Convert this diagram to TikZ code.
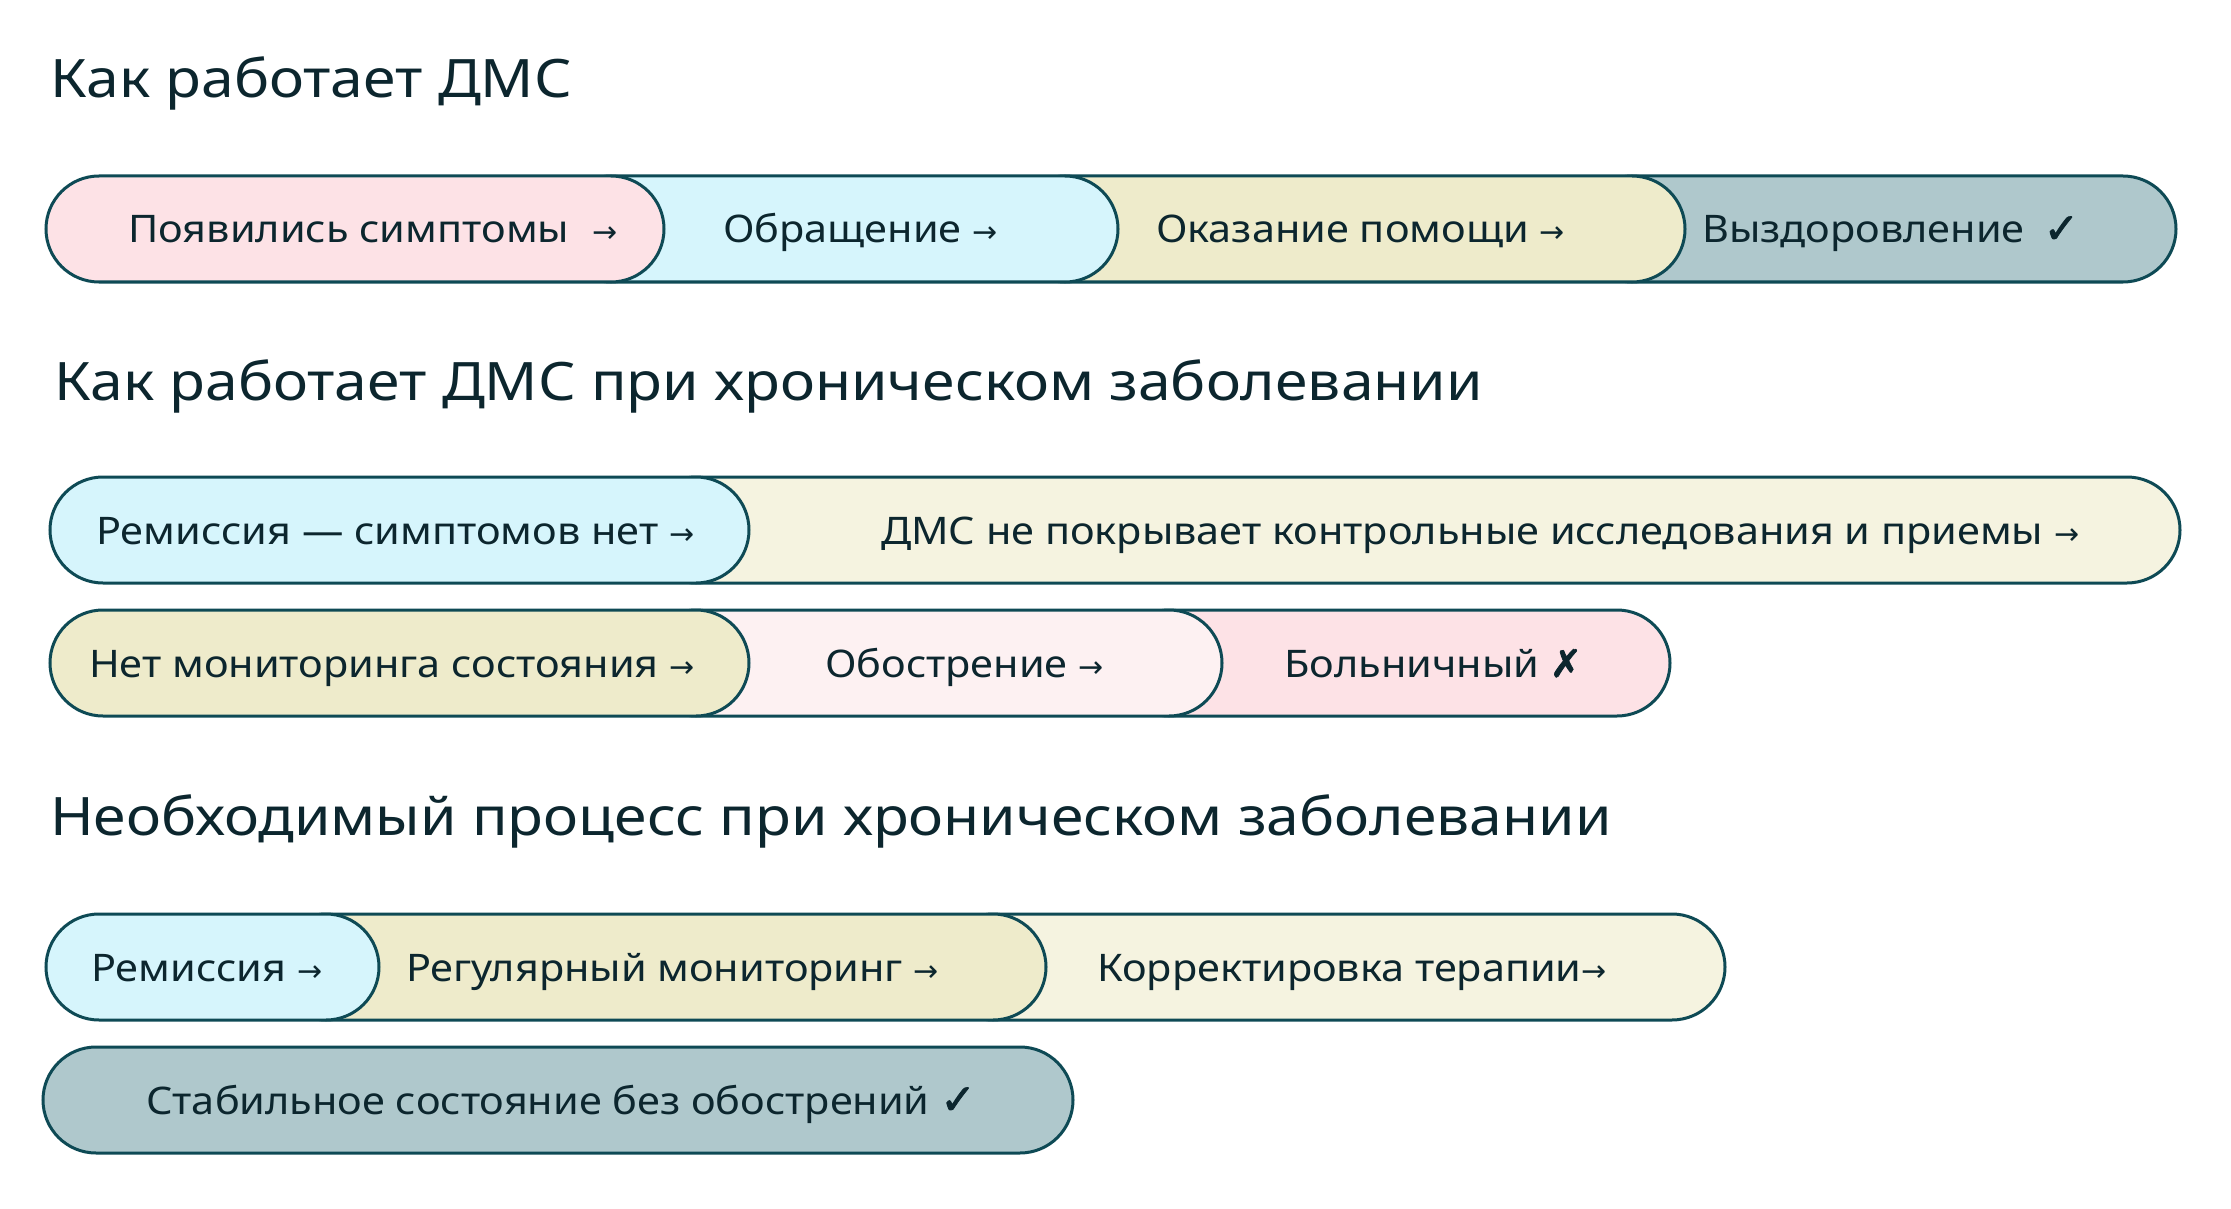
\documentclass[tikz,border=0pt]{standalone}
\usepackage{fontspec}
\setmainfont{Noto Sans}[FakeStretch=1.09]
\newfontfamily\headfont{Noto Sans}[FakeStretch=1.11]
\newfontfamily\symfont{DejaVu Sans}
\newfontfamily\symbold{DejaVu Sans}[FakeBold=2]

\definecolor{edge}{HTML}{0E4A55}
\definecolor{ink}{HTML}{0C262E}
\definecolor{pink}{HTML}{FDE2E6}
\definecolor{palepink}{HTML}{FDF1F2}
\definecolor{sky}{HTML}{D6F5FC}
\definecolor{sand}{HTML}{EEEBCB}
\definecolor{cream}{HTML}{F5F3E0}
\definecolor{slate}{HTML}{AFC8CC}

\newcommand{\nextarrow}{{\symfont\fontsize{30}{30}\selectfont →}}
\newcommand{\checkmk}{{\symbold\fontsize{42}{42}\selectfont ✓}}
\newcommand{\crossmk}{{\symbold\fontsize{38}{38}\selectfont ✗}}

\begin{document}
\begin{tikzpicture}[x=1pt,y=-1pt]
        \tikzstyle{pill}=[draw=edge, line width=3pt, rounded corners=53pt]
        \tikzstyle{heading}=[anchor=base west, inner sep=0pt, text=ink,
            font=\headfont\fontsize{53}{60}\selectfont]
        \tikzstyle{steptext}=[anchor=base west, inner sep=0pt, text=ink,
            font=\fontsize{38}{44}\selectfont]

        \useasboundingbox (0,0) rectangle (2231,1209);

        % Headings
        \node[heading] (title1) at (50,98) {Как работает ДМС};
        \node[heading] (title2) at (54,400) {Как работает ДМС при хроническом заболевании};
        \node[heading] (title3) at (50,835) {Необходимый процесс при хроническом заболевании};

        % Draw the pills of every row, the last one first so that each
        % pill lies on top of the one to its right
        \foreach \l / \r / \c in {1579/2176/slate, 1012/1685/sand, 558/1118/sky, 46/664/pink}
            \draw[pill, fill=\c] (\l,176) rectangle (\r,282);

        \foreach \l / \r / \c in {643/2180/cream, 50/749/sky}
            \draw[pill, fill=\c] (\l,477) rectangle (\r,583);

        \foreach \l / \r / \c in {1116/1670/pink, 643/1222/palepink, 50/749/sand}
            \draw[pill, fill=\c] (\l,610) rectangle (\r,716);

        \foreach \l / \r / \c in {940/1725/cream, 273/1046/sand, 46/379/sky}
            \draw[pill, fill=\c] (\l,914) rectangle (\r,1020);

        \draw[pill, fill=slate] (43,1047) rectangle (1073,1153);

        % Texts of the steps
        \node[steptext] (symptoms) at (128,243) {Появились симптомы\hspace{0.6em}\nextarrow};
        \node[steptext] (visit) at (723,243) {Обращение \nextarrow};
        \node[steptext] (help) at (1156,243) {Оказание помощи \nextarrow};
        \node[steptext] (recovery) at (1702,243) {Выздоровление\hspace{0.5em}\checkmk};

        \node[steptext] (remission) at (96,544) {Ремиссия — симптомов нет \nextarrow};
        \node[steptext] (nocover) at (881,544) {ДМС не покрывает контрольные исследования и приемы \nextarrow};

        \node[steptext] (nomonitor) at (89,677) {Нет мониторинга состояния \nextarrow};
        \node[steptext] (flare) at (825,677) {Обострение \nextarrow};
        \node[steptext] (sickleave) at (1284,677) {Больничный \crossmk};

        \node[steptext] (remission2) at (91,981) {Ремиссия \nextarrow};
        \node[steptext] (monitoring) at (406,981) {Регулярный мониторинг \nextarrow};
        \node[steptext] (therapy) at (1097,981) {Корректировка терапии\nextarrow};

        \node[steptext] (stable) at (146,1114) {Стабильное состояние без обострений \checkmk};
    \end{tikzpicture}
\end{document}
